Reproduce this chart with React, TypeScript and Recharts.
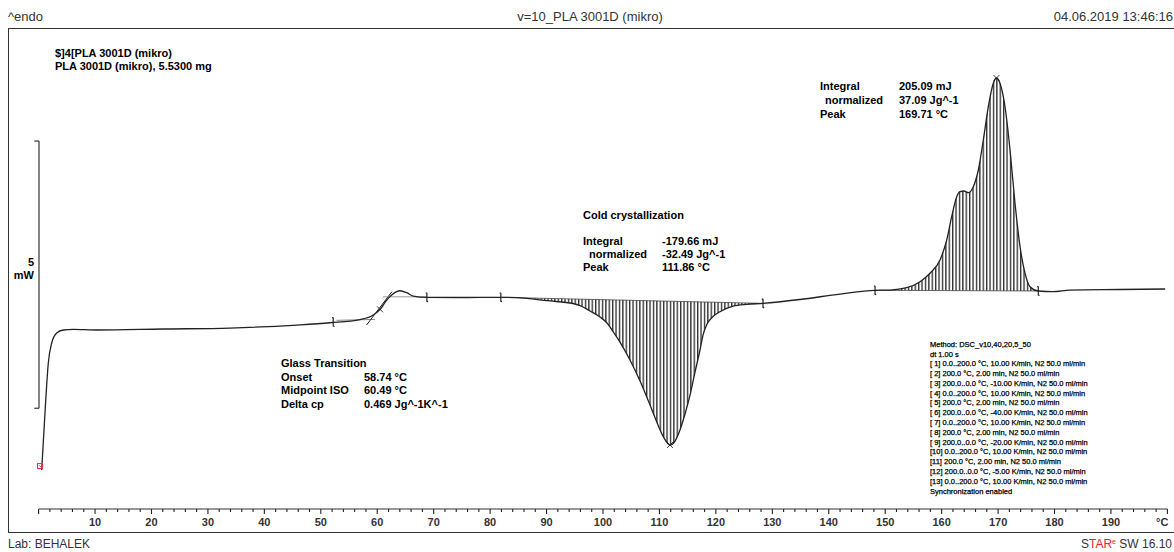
import React from "react";
import {
  ComposedChart,
  Line,
  Area,
  XAxis,
  YAxis,
  ReferenceLine,
  ReferenceDot,
} from "recharts";

// ---- data (temperature in °C, heat flow in mW, endo up) ----
const temps = [0.55, 1.13, 1.72, 2.32, 3.21, 4.38, 6.15, 10.29, 22.04, 33.91, 45.78, 51.63, 56.95, 59.3, 60.49, 61.68, 62.56, 63.45, 64.03, 65.22, 66.39, 68.76, 74.6, 81.75, 86.53, 90.08, 94.68, 96.29, 97.7, 99.47, 100.71, 101.6, 103.01, 104.78, 106.56, 108.33, 109.75, 110.81, 111.87, 112.76, 113.64, 114.53, 115.42, 116.3, 117.19, 117.72, 118.43, 119.49, 120.73, 123.04, 125.51, 128.35, 134.9, 142.0, 148.2, 150.85, 153.81, 156.17, 157.94, 159.71, 160.9, 161.78, 162.67, 163.25, 163.96, 164.72, 165.61, 166.5, 167.38, 168.27, 169.15, 169.71, 170.34, 171.23, 172.12, 173.0, 173.89, 174.78, 175.66, 177.13, 179.73, 182.74, 191.6, 199.6];
const heatFlow = [-4.271, -3.204, -2.269, -1.894, -1.707, -1.651, -1.638, -1.651, -1.632, -1.614, -1.558, -1.515, -1.455, -1.371, -1.264, -1.09, -0.996, -0.934, -0.916, -0.953, -1.015, -1.039, -1.043, -1.039, -1.058, -1.103, -1.155, -1.211, -1.296, -1.408, -1.52, -1.651, -1.876, -2.213, -2.606, -3.055, -3.429, -3.672, -3.803, -3.728, -3.522, -3.223, -2.868, -2.437, -2.025, -1.745, -1.539, -1.399, -1.309, -1.202, -1.17, -1.152, -1.08, -0.978, -0.908, -0.903, -0.86, -0.747, -0.59, -0.341, 0.033, 0.469, 0.843, 0.937, 0.95, 0.918, 1.03, 1.343, 1.904, 2.527, 2.965, 3.064, 2.965, 2.527, 1.717, 0.72, -0.092, -0.59, -0.841, -0.921, -0.934, -0.903, -0.893, -0.884];

// integration limits and baselines
const coldLimits = [81.75, 128.35];
const coldBase = [-1.039, -1.152];
const meltLimits = [148.2, 177.13];
const meltBase = [-0.908, -0.921];

// evaluation limit markers
const limitTemps = [52.2, 68.8, 81.9, 128.35, 148.2, 177.13];
const limitValues = [-1.5, -1.039, -1.039, -1.152, -0.908, -0.921];

// evaluated points (x marks)
const markTemps = [60.49, 111.86, 169.71];
const markValues = [-1.264, -3.803, 3.064];

// glass transition tangents [T1, v1, T2, v2]
const tangentLower = [52.8, -1.47, 59.6, -1.452];
const tangentSteep = [58.1, -1.558, 62.6, -0.934];
const tangentUpper = [61.0, -1.03, 68.8, -1.03];

// 5 mW scale bar
const scaleBarT = 0.07;
const scaleBarTickT = -0.76;
const scaleBarRange = [1.885, -3.115];

const axisTicks = Array.from({ length: 101 }, (_, i) => i * 2);
const labelTicks = [10, 20, 30, 40, 50, 60, 70, 80, 90, 100, 110, 120, 130, 140, 150, 160, 170, 180, 190];

const methodLines = [
  "Method: DSC_v10,40,20,5_50",
  "dt 1.00 s",
  "[ 1] 0.0..200.0 °C, 10.00 K/min, N2 50.0 ml/min",
  "[ 2] 200.0 °C, 2.00 min, N2 50.0 ml/min",
  "[ 3] 200.0..0.0 °C, -10.00 K/min, N2 50.0 ml/min",
  "[ 4] 0.0..200.0 °C, 10.00 K/min, N2 50.0 ml/min",
  "[ 5] 200.0 °C, 2.00 min, N2 50.0 ml/min",
  "[ 6] 200.0..0.0 °C, -40.00 K/min, N2 50.0 ml/min",
  "[ 7] 0.0..200.0 °C, 10.00 K/min, N2 50.0 ml/min",
  "[ 8] 200.0 °C, 2.00 min, N2 50.0 ml/min",
  "[ 9] 200.0..0.0 °C, -20.00 K/min, N2 50.0 ml/min",
  "[10] 0.0..200.0 °C, 10.00 K/min, N2 50.0 ml/min",
  "[11] 200.0 °C, 2.00 min, N2 50.0 ml/min",
  "[12] 200.0..0.0 °C, -5.00 K/min, N2 50.0 ml/min",
  "[13] 0.0..200.0 °C, 10.00 K/min, N2 50.0 ml/min",
  "Synchronization enabled",
];

const lerp = (t: number, lim: number[], base: number[]) =>
  base[0] + ((t - lim[0]) / (lim[1] - lim[0])) * (base[1] - base[0]);

const data = temps.map((T, i) => {
  const v = heatFlow[i];
  const inCold = T >= coldLimits[0] && T <= coldLimits[1];
  const inMelt = T >= meltLimits[0] && T <= meltLimits[1];
  return {
    T,
    v,
    cold: inCold ? [lerp(T, coldLimits, coldBase), v] : null,
    melt: inMelt ? [lerp(T, meltLimits, meltBase), v] : null,
  };
});

const FONT = "'Liberation Sans', Arial, Helvetica, sans-serif";

const AxisTick = (props: any) => {
  const { x, y, payload } = props;
  const val = payload.value as number;
  const major = val % 10 === 0;
  let label: string | null = null;
  if (labelTicks.includes(val)) label = String(val);
  if (val === 200) label = "°C";
  return (
    <g>
      <line x1={x} x2={x} y1={y} y2={y + (major ? 5 : 3)} stroke="#222" strokeWidth={1.1} />
      {label && (
        <text
          x={val === 200 ? x + 1 : x}
          y={y + 17}
          textAnchor={val === 200 ? "end" : "middle"}
          fontFamily={FONT}
          fontWeight="bold"
          fontSize={11}
          fill="#333"
        >
          {label}
        </text>
      )}
    </g>
  );
};

const CrossShape = (props: any) => {
  const { cx, cy } = props;
  return (
    <path
      d={`M${cx - 3},${cy - 3}L${cx + 3},${cy + 3}M${cx - 3},${cy + 3}L${cx + 3},${cy - 3}`}
      stroke="#222"
      strokeWidth={0.9}
      fill="none"
    />
  );
};

const LimitShape = (props: any) => {
  const { cx, cy } = props;
  return (
    <path
      d={`M${cx - 1.2},${cy - 4.5}L${cx},${cy - 4}L${cx},${cy + 4}L${cx + 1.2},${cy + 4.5}`}
      stroke="#222"
      strokeWidth={1.2}
      fill="none"
    />
  );
};

const StartShape = (props: any) => {
  const { cx, cy } = props;
  return (
    <g>
      <rect x={cx - 2.5} y={cy - 2.5} width={5} height={5} stroke="#e33" strokeWidth={1} fill="none" />
      <line x1={cx - 1} y1={cy - 1} x2={cx + 2} y2={cy + 2} stroke="#e33" strokeWidth={0.8} />
    </g>
  );
};

const Txt = ({ x, cy, children, size = 11, bold = true, color = "#000", anchor = "left", style = {} }: any) => {
  const lh = Math.round(size * 1.25);
  const s: React.CSSProperties = {
    position: "absolute",
    top: cy - lh / 2,
    fontFamily: FONT,
    fontSize: size,
    lineHeight: `${lh}px`,
    height: lh,
    fontWeight: bold ? 700 : 400,
    color,
    whiteSpace: "pre",
    ...style,
  };
  if (anchor === "left") s.left = x;
  else if (anchor === "right") s.right = 1174 - x;
  else {
    s.left = x;
    s.transform = "translateX(-50%)";
  }
  return <div style={s}>{children}</div>;
};

export default function App() {
  return (
    <div style={{ position: "absolute", left: 0, top: 0, width: 1174, height: 552, background: "#fff", overflow: "hidden" }}>
      <svg width={0} height={0} style={{ position: "absolute" }}>
        <defs>
          <pattern id="vhatch" patternUnits="userSpaceOnUse" width={3.4} height={8}>
            <line x1={0.7} y1={0} x2={0.7} y2={8} stroke="#000" strokeWidth={1.1} />
          </pattern>
        </defs>
      </svg>

      {/* frame */}
      <div
        style={{
          position: "absolute",
          left: 8,
          top: 28,
          width: 1200,
          height: 503,
          borderTop: "1.6px solid #333",
          borderLeft: "1.6px solid #333",
          borderBottom: "1.6px solid #333",
        }}
      />

      {/* header / footer */}
      <Txt x={8} cy={17} size={13} bold={false} color="#333">^endo</Txt>
      <Txt x={590} cy={17} size={13} bold={false} color="#333" anchor="center">v=10_PLA 3001D (mikro)</Txt>
      <Txt x={1173} cy={17} size={13} bold={false} color="#333" anchor="right">04.06.2019 13:46:16</Txt>
      <Txt x={8} cy={544} size={12} bold={false} color="#333">Lab: BEHALEK</Txt>
      <Txt x={1172} cy={544} size={12} bold={false} color="#333" anchor="right">
        S<span style={{ color: "#e22" }}>TAR</span>
        <span style={{ color: "#e22", fontSize: 7, position: "relative", top: -4 }}>e</span> SW 16.10
      </Txt>

      <div style={{ position: "absolute", left: 0, top: 0 }}>
        <ComposedChart
          width={1174}
          height={552}
          data={data}
          margin={{ top: 28, right: 6.6, bottom: 13, left: 38.6 }}
        >
          <XAxis
            dataKey="T"
            type="number"
            domain={[0, 200]}
            ticks={axisTicks}
            interval={0}
            tick={<AxisTick />}
            tickLine={false}
            tickSize={0}
            tickMargin={0}
            height={30}
            axisLine={{ stroke: "#333", strokeWidth: 1.2 }}
            allowDataOverflow
          />
          <YAxis hide type="number" domain={[-5, 4]} allowDataOverflow />

          <Area
            dataKey="cold"
            type="monotone"
            stroke="none"
            fill="url(#vhatch)"
            fillOpacity={1}
            isAnimationActive={false}
            connectNulls={false}
            dot={false}
            activeDot={false}
          />
          <Area
            dataKey="melt"
            type="monotone"
            stroke="none"
            fill="url(#vhatch)"
            fillOpacity={1}
            isAnimationActive={false}
            connectNulls={false}
            dot={false}
            activeDot={false}
          />

          {/* integration baselines */}
          <ReferenceLine
            segment={[{ x: coldLimits[0], y: coldBase[0] }, { x: coldLimits[1], y: coldBase[1] }]}
            stroke="#444"
            strokeWidth={0.8}
          />
          <ReferenceLine
            segment={[{ x: meltLimits[0], y: meltBase[0] }, { x: meltLimits[1], y: meltBase[1] }]}
            stroke="#444"
            strokeWidth={0.8}
          />

          {/* glass transition tangents */}
          <ReferenceLine
            segment={[{ x: tangentLower[0], y: tangentLower[1] }, { x: tangentLower[2], y: tangentLower[3] }]}
            stroke="#888"
            strokeWidth={1}
          />
          <ReferenceLine
            segment={[{ x: tangentSteep[0], y: tangentSteep[1] }, { x: tangentSteep[2], y: tangentSteep[3] }]}
            stroke="#222"
            strokeWidth={1}
          />
          <ReferenceLine
            segment={[{ x: tangentUpper[0], y: tangentUpper[1] }, { x: tangentUpper[2], y: tangentUpper[3] }]}
            stroke="#999"
            strokeWidth={1}
          />

          <Line
            dataKey="v"
            type="monotone"
            stroke="#222"
            strokeWidth={1.3}
            dot={false}
            activeDot={false}
            isAnimationActive={false}
          />

          {/* scale bar */}
          <ReferenceLine
            segment={[{ x: scaleBarT, y: scaleBarRange[0] }, { x: scaleBarT, y: scaleBarRange[1] }]}
            stroke="#333"
            strokeWidth={1.2}
            ifOverflow="visible"
          />
          <ReferenceLine
            segment={[{ x: scaleBarTickT, y: scaleBarRange[0] }, { x: scaleBarT, y: scaleBarRange[0] }]}
            stroke="#333"
            strokeWidth={1.2}
            ifOverflow="visible"
          />
          <ReferenceLine
            segment={[{ x: scaleBarTickT, y: scaleBarRange[1] }, { x: scaleBarT, y: scaleBarRange[1] }]}
            stroke="#333"
            strokeWidth={1.2}
            ifOverflow="visible"
          />

          {limitTemps.map((t, i) => (
            <ReferenceDot key={`l${i}`} x={t} y={limitValues[i]} r={3} shape={<LimitShape />} ifOverflow="visible" />
          ))}
          {markTemps.map((t, i) => (
            <ReferenceDot key={`m${i}`} x={t} y={markValues[i]} r={3} shape={<CrossShape />} ifOverflow="visible" />
          ))}
          <ReferenceDot x={0.25} y={-4.196} r={3} shape={<StartShape />} ifOverflow="visible" />
        </ComposedChart>
      </div>

      {/* scale label */}
      <Txt x={34} cy={262} anchor="right">5</Txt>
      <Txt x={34} cy={275} anchor="right">mW</Txt>

      {/* sample */}
      <Txt x={55} cy={53}>$]4[PLA 3001D (mikro)</Txt>
      <Txt x={55} cy={66}>PLA 3001D (mikro), 5.5300 mg</Txt>

      {/* melting */}
      <Txt x={820} cy={86}>Integral</Txt>
      <Txt x={825} cy={100}>normalized</Txt>
      <Txt x={820} cy={114}>Peak</Txt>
      <Txt x={899} cy={86}>205.09 mJ</Txt>
      <Txt x={899} cy={100}>37.09 Jg^-1</Txt>
      <Txt x={899} cy={114}>169.71 °C</Txt>

      {/* cold crystallization */}
      <Txt x={583} cy={215}>Cold crystallization</Txt>
      <Txt x={583} cy={241}>Integral</Txt>
      <Txt x={589} cy={254}>normalized</Txt>
      <Txt x={583} cy={267}>Peak</Txt>
      <Txt x={662} cy={241}>-179.66 mJ</Txt>
      <Txt x={662} cy={254}>-32.49 Jg^-1</Txt>
      <Txt x={662} cy={267}>111.86 °C</Txt>

      {/* glass transition */}
      <Txt x={281} cy={363}>Glass Transition</Txt>
      <Txt x={281} cy={376.5}>Onset</Txt>
      <Txt x={281} cy={390}>Midpoint ISO</Txt>
      <Txt x={281} cy={403.5}>Delta cp</Txt>
      <Txt x={364} cy={376.5}>58.74 °C</Txt>
      <Txt x={364} cy={390}>60.49 °C</Txt>
      <Txt x={364} cy={403.5}>0.469 Jg^-1K^-1</Txt>

      {/* method */}
      {methodLines.map((l, i) => (
        <Txt
          key={i}
          x={930}
          cy={344.3 + i * 9.78}
          size={7.5}
          bold={false}
          color="#000"
          style={{ WebkitTextStroke: "0.25px #000" }}
        >
          {l}
        </Txt>
      ))}
    </div>
  );
}
